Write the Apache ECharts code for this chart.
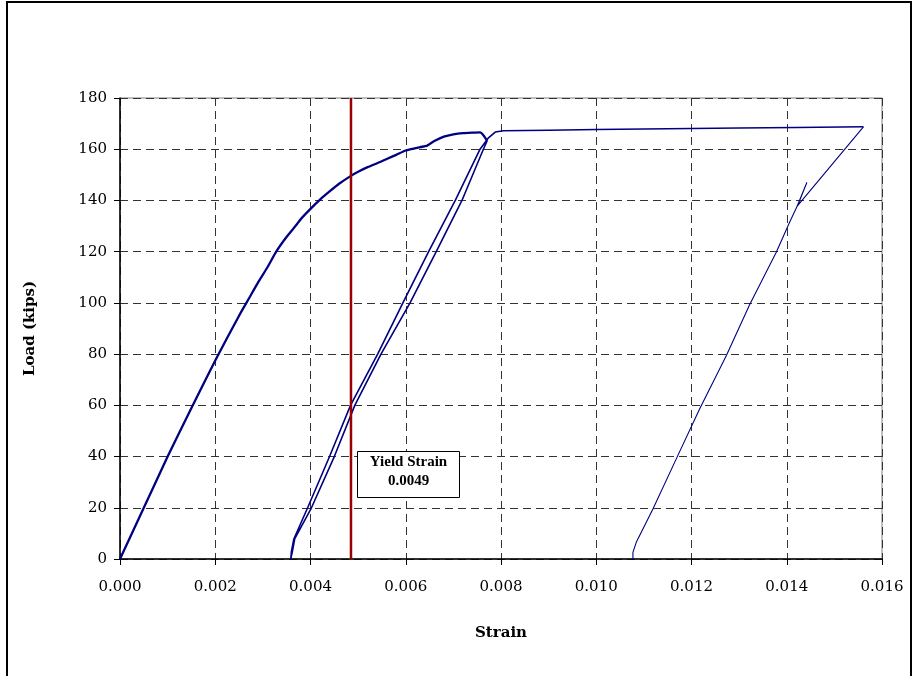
<!DOCTYPE html>
<html>
<head>
<meta charset="utf-8">
<script src="https://cdn.jsdelivr.net/npm/echarts@6/dist/echarts.min.js"></script>
<style>
html,body{margin:0;padding:0;background:#fff;}
#chart{width:917px;height:676px;}
</style>
</head>
<body>
<div id="chart"></div>
<script>
// Initial loading curve
var strainLoad1 = [0,0.0005,0.001,0.0015,0.002,0.0025,0.0027,0.0029,0.0031,0.00328,0.0035,0.00371,0.0038,0.004,0.0042,0.0044,0.0046,0.00484,0.005,0.0052,0.00546,0.0056,0.0058,0.006,0.0063,0.00644,0.0065,0.0066,0.0068,0.007,0.0072,0.0074,0.00756,0.00763,0.00771];
var load1 = [0,20,40,59,77.5,95,101.5,108,114,120,125.8,130.6,132.8,136.7,140.3,143.5,146.5,149.5,151.2,153,155,156.2,157.8,159.5,160.8,161.3,162,163.2,164.9,165.8,166.3,166.5,166.6,165.5,163.3];
// Unloading, reloading and plateau
var strainCycle = [0.00771,0.00763,0.00718,0.00664,0.00609,0.00548,0.00493,0.0045,0.00402,0.00367,0.00362,0.003585,0.0036,0.00365,0.00394,0.0044,0.00484,0.00541,0.00594,0.00648,0.00704,0.00756,0.00773,0.00788,0.00805,0.009,0.010,0.011,0.012,0.013,0.0142,0.01561];
var loadCycle = [163.3,160,140,120,100,80,60,40,20,8,3,0,3,7.8,20,40,60,80,100,120,140,160,164.3,166.7,167.2,167.4,167.7,167.9,168.1,168.3,168.5,168.75];
// Final unloading
var strainFinal = [0.01561,0.01422,0.01442,0.01425,0.01406,0.01378,0.01322,0.01273,0.01217,0.01168,0.01119,0.01084,0.01077,0.01077];
var loadFinal = [168.75,137.8,146.9,139,131.5,119.8,99.3,79.4,58.6,39.1,19.5,6.5,2.6,0];
// Yield strain marker
var yieldStrain = 0.00485;
var yieldLoadRange = [0,180];
var xTicks = {min:0, max:0.016, interval:0.002};
var yTicks = {min:0, max:180, interval:20};

function pairs(xs, ys){ return xs.map(function(x,i){ return [x, ys[i]]; }); }

var lineColor = '#000080';
var chart = echarts.init(document.getElementById('chart'));
var tickFont = {fontFamily:'DejaVu Serif', fontSize:15, color:'#000'};
chart.setOption({
  animation:false,
  backgroundColor:'#fff',
  grid:{left:120, top:98, right:35, bottom:117, show:true, borderColor:'#808080', borderWidth:1, backgroundColor:'transparent'},
  xAxis:{
    type:'value', min:xTicks.min, max:xTicks.max, interval:xTicks.interval,
    name:'Strain', nameLocation:'middle', nameGap:67,
    nameTextStyle:{fontFamily:'DejaVu Serif', fontWeight:'bold', fontSize:15, color:'#000'},
    axisLine:{show:true, onZero:false, lineStyle:{color:'#000', width:1.5}},
    axisTick:{show:true, inside:false, length:6, lineStyle:{color:'#000'}},
    axisLabel:Object.assign({margin:21, formatter:function(v){return v.toFixed(3);}}, tickFont),
    splitLine:{show:true, lineStyle:{color:'#333', type:[8,5], width:1}}
  },
  yAxis:{
    type:'value', min:yTicks.min, max:yTicks.max, interval:yTicks.interval,
    name:'Load (kips)', nameLocation:'middle', nameGap:82, nameRotate:90,
    nameTextStyle:{fontFamily:'DejaVu Serif', fontWeight:'bold', fontSize:15, color:'#000'},
    axisLine:{show:true, onZero:false, lineStyle:{color:'#000', width:1.5}},
    axisTick:{show:true, inside:false, length:6, lineStyle:{color:'#000'}},
    axisLabel:Object.assign({margin:13}, tickFont),
    splitLine:{show:true, lineStyle:{color:'#333', type:[8,5], width:1}}
  },
  series:[
    {type:'line', data:pairs(strainLoad1, load1), showSymbol:false, symbol:'none', smooth:0.2,
     lineStyle:{color:lineColor, width:2.3, join:'round'}, z:5},
    {type:'line', data:pairs(strainCycle, loadCycle), showSymbol:false, symbol:'none',
     lineStyle:{color:lineColor, width:1.6, join:'round'}, z:5},
    {type:'line', data:pairs(strainFinal, loadFinal), showSymbol:false, symbol:'none',
     lineStyle:{color:lineColor, width:1.1, join:'round'}, z:5},
    {type:'line', data:[[yieldStrain, yieldLoadRange[0]],[yieldStrain, yieldLoadRange[1]]], showSymbol:false, symbol:'none',
     lineStyle:{color:'#990000', width:2.5}, z:6}
  ],
  graphic:[
    {type:'rect', shape:{x:7, y:2, width:904, height:700}, style:{fill:'none', stroke:'#000', lineWidth:2}, z:100},
    {type:'rect', shape:{x:357.5, y:451.5, width:102, height:46}, style:{fill:'#fff', stroke:'#000', lineWidth:1}, z:50},
    {type:'text', x:408.5, y:462, style:{text:'Yield Strain', fontFamily:'Liberation Serif', fontWeight:'bold', fontSize:15, fill:'#000', align:'center', verticalAlign:'middle'}, z:51},
    {type:'text', x:408.5, y:481, style:{text:'0.0049', fontFamily:'Liberation Serif', fontWeight:'bold', fontSize:15, fill:'#000', align:'center', verticalAlign:'middle'}, z:51}
  ]
});
</script>
</body>
</html>
